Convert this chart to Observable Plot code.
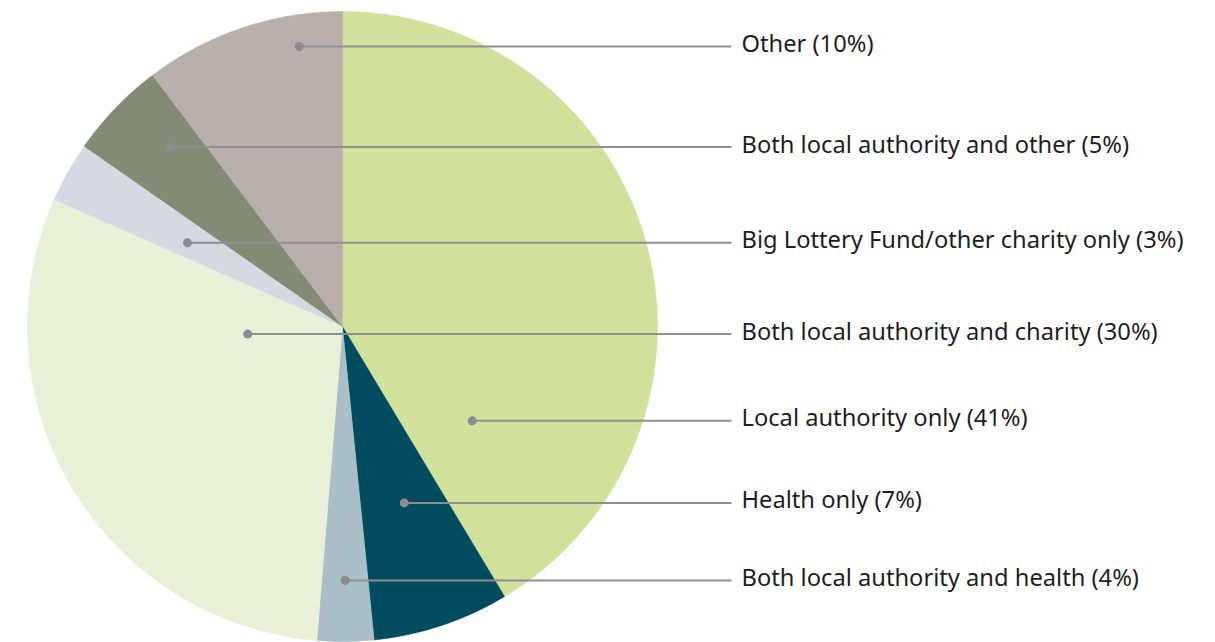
<!DOCTYPE html>
<html>
<head>
<meta charset="utf-8">
<script src="https://cdn.jsdelivr.net/npm/d3@7"></script>
<script src="https://cdn.jsdelivr.net/npm/@observablehq/plot@0.6"></script>
<style>
  html, body { margin: 0; padding: 0; background: #ffffff; }
  #chart { width: 1215px; height: 642px; }
</style>
</head>
<body>
<div id="chart"></div>
<script>
// ---- Data (clockwise from 12 o'clock) ----
const categories = [
  "Local authority only",
  "Health only",
  "Both local authority and health",
  "Both local authority and charity",
  "Big Lottery Fund/other charity only",
  "Both local authority and other",
  "Other"
];
// slice sizes as drawn in the picture (%)
const shares = [41.4, 7.0, 2.9, 30.3, 3.1, 5.0, 10.3];
// percentages printed in the labels
const labelPct = [41, 7, 4, 30, 3, 5, 10];
const colors = ["#d1e19c", "#014b5f", "#a9bec7", "#e8f1d7", "#d6d8e2", "#848b75", "#b9afaa"];
// label order, top to bottom (legend order)
const labelOrder = [
  "Other",
  "Both local authority and other",
  "Big Lottery Fund/other charity only",
  "Both local authority and charity",
  "Local authority only",
  "Health only",
  "Both local authority and health"
];

// ---- Layout (units of pie radius) ----
const W = 1215, H = 642;
const R = 315, cx = 342, cy = 326;
const xDomain = [-cx / R, (W - cx) / R];
const yDomain = [-(H - cy) / R, cy / R];
const rowTop = 0.889, rowStep0 = 0.319, rowShrink = 0.0146;
const lineEndX = (731 - cx) / R, labelX = (741 - cx) / R;

// ---- Slices as polygons ----
const total = d3.sum(shares);
const slices = [];
let acc = 0;
categories.forEach((c, i) => {
  const a0 = acc / total * 2 * Math.PI;
  acc += shares[i];
  const a1 = acc / total * 2 * Math.PI;
  slices.push({cat: c, a0, a1, pct: labelPct[i]});
});
const polyPts = [];
slices.forEach(s => {
  polyPts.push({cat: s.cat, x: 0, y: 0});
  const n = Math.max(8, Math.ceil((s.a1 - s.a0) / 0.005));
  for (let k = 0; k <= n; k++) {
    const a = s.a0 + (s.a1 - s.a0) * k / n;
    polyPts.push({cat: s.cat, x: Math.sin(a), y: Math.cos(a)});
  }
  polyPts.push({cat: s.cat, x: 0, y: 0});
});

// ---- Leader dots: on the label row, inside the slice ----
function angleOf(x, y) {
  let a = Math.atan2(x, y);
  if (a < 0) a += 2 * Math.PI;
  return a;
}
const leaders = labelOrder.map((c, i) => {
  const s = slices.find(d => d.cat === c);
  const y = rowTop - i * rowStep0 + rowShrink * i * (i - 1) / 2;
  const xs = [];
  let touchesRim = false;
  for (let x = -1; x <= 1; x += 0.001) {
    if (x * x + y * y > 0.998) continue;
    const a = angleOf(x, y);
    if (a >= s.a0 && a <= s.a1) {
      xs.push(x);
      if (x * x + y * y > 0.99) touchesRim = true;
    }
  }
  const lo = d3.min(xs), hi = d3.max(xs);
  let dx;
  if (!touchesRim) {
    dx = (lo + hi) / 2;
  } else {
    const inner = Math.abs(lo) < Math.abs(hi) ? lo : hi;
    const outer = inner === lo ? hi : lo;
    dx = inner + (outer - inner) * 0.3;
  }
  return {cat: c, x: dx, y, label: `${c} (${s.pct}%)`};
});

const chart = Plot.plot({
  width: W,
  height: H,
  margin: 0,
  x: {domain: xDomain, range: [0, W], axis: null},
  y: {domain: yDomain, range: [H, 0], axis: null},
  color: {domain: categories, range: colors},
  style: {fontFamily: "'Noto Sans', sans-serif", background: "#ffffff"},
  marks: [
    Plot.line(polyPts, {x: "x", y: "y", z: "cat", fill: "cat", stroke: "cat", strokeWidth: 0.5, curve: "linear"}),
    Plot.link(leaders, {x1: "x", y1: "y", x2: () => lineEndX, y2: "y", stroke: "#8d8f92", strokeWidth: 2}),
    Plot.dot(leaders, {x: "x", y: "y", r: 4.5, fill: "#8a8c90", stroke: null}),
    Plot.text(leaders, {x: () => labelX, y: "y", text: "label", textAnchor: "start", fontSize: 23.7, fill: "#1e1e1e", dy: -2})
  ]
});
document.getElementById("chart").appendChild(chart);
</script>
</body>
</html>
